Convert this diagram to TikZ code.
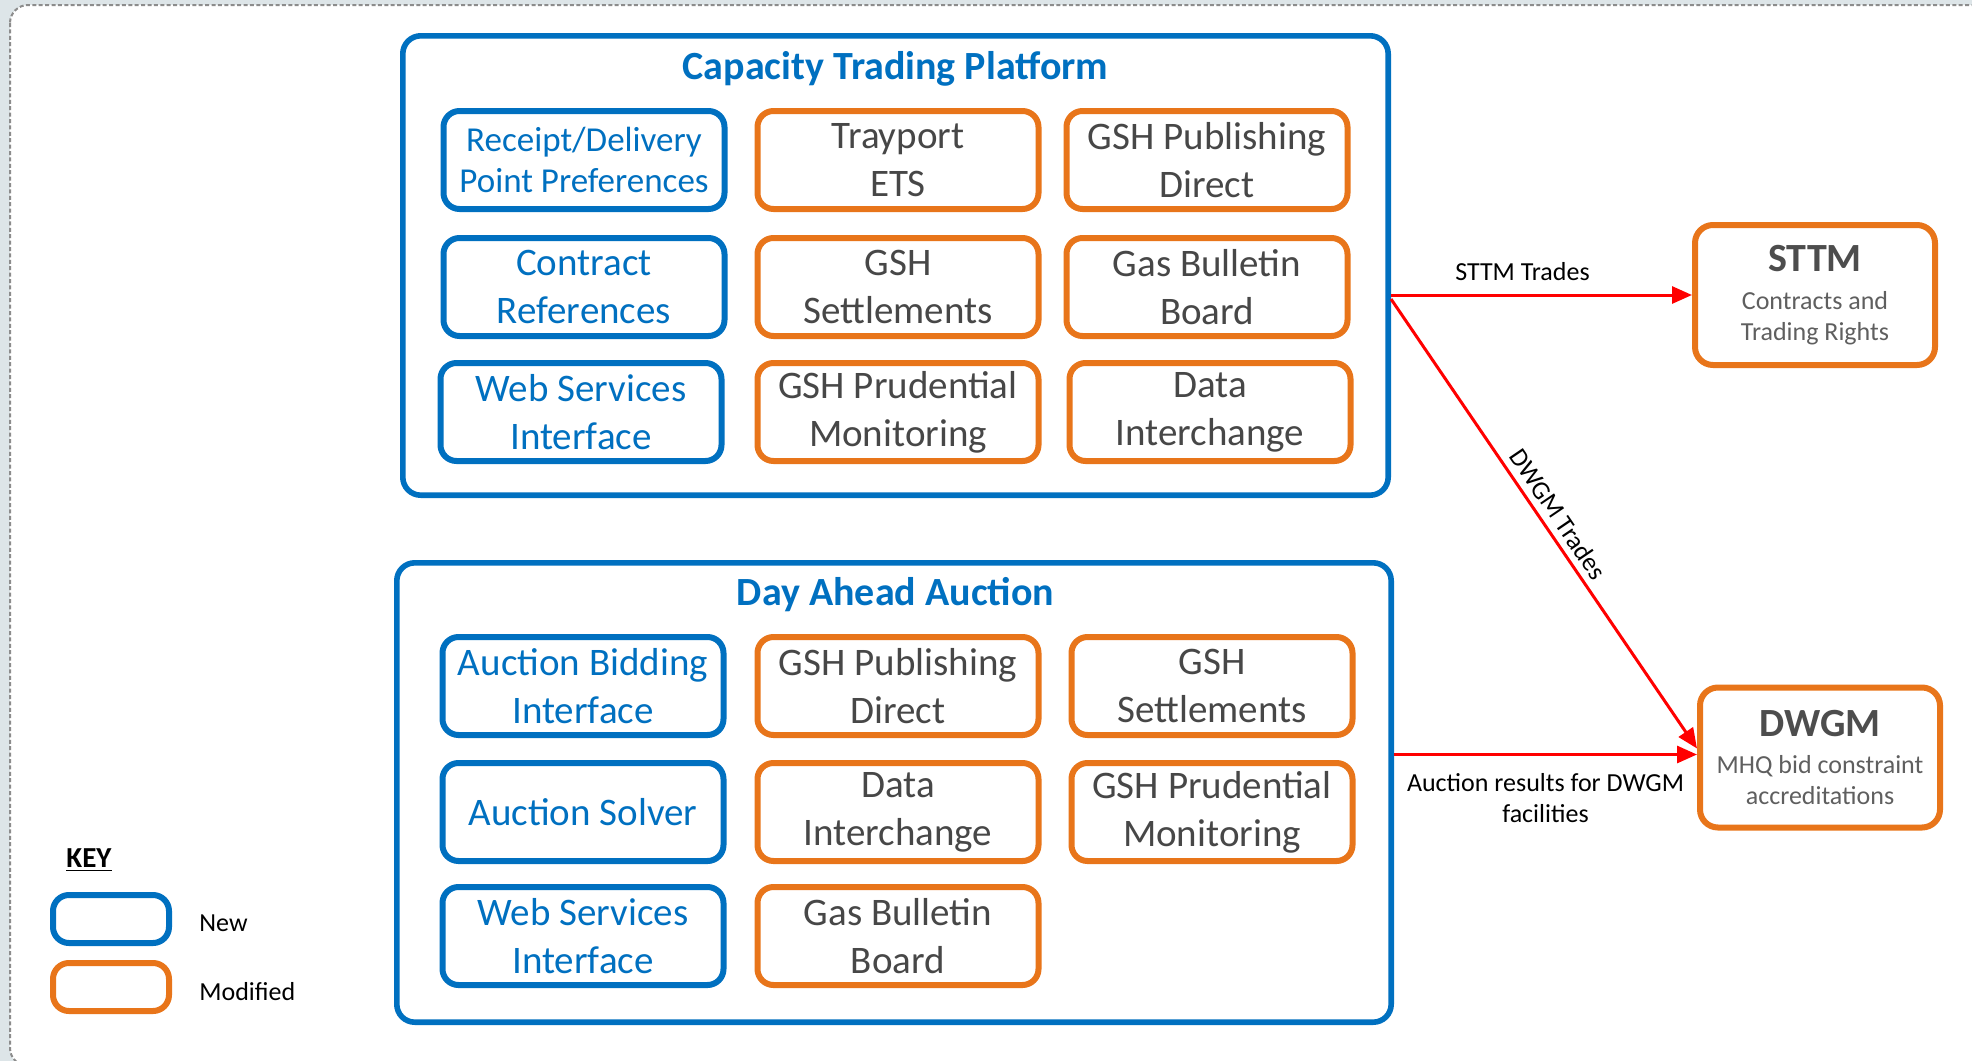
\documentclass[tikz,border=0pt]{standalone}
\usepackage{fontspec}
\setmainfont{Carlito}
\usetikzlibrary{arrows.meta,calc}
\definecolor{newblue}{HTML}{0070C0}
\definecolor{modorange}{HTML}{E8751A}
\definecolor{boxtext}{HTML}{474747}
\definecolor{subgray}{HTML}{5F5F5F}
\definecolor{titgray}{HTML}{4D4D4D}
\definecolor{outbg}{HTML}{DDE5E8}
\definecolor{framegray}{HTML}{8C8C8C}
\definecolor{arrowred}{HTML}{FF0000}
\tikzset{
  newbox/.style={draw=newblue, line width=3pt, rounded corners=8pt, minimum width=140.5pt, minimum height=49pt, align=center, text=newblue, font=\fontsize{19.5}{24}\selectfont, inner sep=0pt},
  modbox/.style={newbox, draw=modorange, text=boxtext},
  groupbox/.style={draw=newblue, line width=2.8pt, rounded corners=9pt, inner sep=0pt},
  grouptitle/.style={text=newblue, font=\fontsize{20}{24}\selectfont\bfseries},
  extbox/.style={draw=modorange, line width=3pt, rounded corners=9pt, minimum width=120pt, minimum height=70pt, align=center, font=\fontsize{13}{15.5}\selectfont, text=subgray, inner sep=0pt},
  flow/.style={draw=arrowred, line width=1.5pt, -{Triangle[length=10pt,width=8.5pt]}},
  flowlabel/.style={font=\fontsize{13}{15.5}\selectfont, text=black, align=center},
  keybox/.style={line width=3pt, rounded corners=8pt, minimum width=58pt, minimum height=24pt, inner sep=0pt},
  keylabel/.style={font=\fontsize{13}{15.5}\selectfont, text=black, anchor=west, inner sep=0pt}
}
\begin{document}
\begin{tikzpicture}[x=0.5pt,y=-0.5pt]
\useasboundingbox (0,0) rectangle (1972,1061);
\clip (0,0) rectangle (1972,1061);
% page background and dotted frame
\fill[outbg] (0,0) rectangle (1972,1061);
\fill[white, rounded corners=9pt] (10,5) rectangle (2010,1066);
\draw[framegray, line width=1pt, dash pattern=on 2pt off 1.2pt, rounded corners=9pt] (10,5) rectangle (2010,1066);

% Capacity Trading Platform
\node[groupbox, minimum width=492.7pt, minimum height=229.7pt] (ctp) at (895.5,265.5) {};
\node[grouptitle] (ctpt) at (895.5,69) {Capacity Trading Platform};
\node[newbox, font=\fontsize{17.5}{20.75}\selectfont] (rdp) at (584,160) {Receipt/Delivery\\Point Preferences};
\node[modbox] (tray) at (898,160) {Trayport\\ETS};
\node[modbox] (gpd1) at (1207,160) {GSH Publishing\\Direct};
\node[newbox] (cref) at (584,287) {Contract\\References};
\node[modbox] (gss1) at (898,287) {GSH\\Settlements};
\node[modbox] (gbb1) at (1207,287) {Gas Bulletin\\Board};
\node[newbox] (wsi1) at (581,412) {Web Services\\Interface};
\node[modbox] (gpm1) at (898,412) {GSH Prudential\\Monitoring};
\node[modbox] (dix1) at (1210,412) {Data\\Interchange};

% Day Ahead Auction
\node[groupbox, minimum width=497.2pt, minimum height=229.7pt] (daa) at (894,792.5) {};
\node[grouptitle] (daat) at (895.5,595) {Day Ahead Auction};
\node[newbox] (abi) at (583,686) {Auction Bidding\\Interface};
\node[modbox] (gpd2) at (898,686) {GSH Publishing\\Direct};
\node[modbox] (gss2) at (1212,686) {GSH\\Settlements};
\node[newbox] (aso) at (583,812) {Auction Solver};
\node[modbox] (dix2) at (898,812) {Data\\Interchange};
\node[modbox] (gpm2) at (1212,812) {GSH Prudential\\Monitoring};
\node[newbox] (wsi2) at (583,936) {Web Services\\Interface};
\node[modbox] (gbb2) at (898,936) {Gas Bulletin\\Board};

% external markets
\node[extbox] (sttm) at (1815,295) {{\fontsize{20}{24}\selectfont\bfseries\color{titgray}STTM}\\[3.5pt]Contracts and\\Trading Rights};
\node[extbox] (dwgm) at (1820,757.5) {{\fontsize{20}{24}\selectfont\bfseries\color{titgray}DWGM}\\[3pt]MHQ bid constraint\\accreditations};

% connectors
\coordinate (dtip) at ($(dwgm.west)+(0,-9)$);
\coordinate (atip) at ($(dwgm.west)+(0,-3)$);
\coordinate (dstart) at ($(ctp.east |- sttm.west)+(0,4)$);
\draw[flow] (ctp.east |- sttm.west) -- (sttm.west)
  node[flowlabel, midway, above, yshift=3pt, xshift=-9.5pt] {STTM Trades};
\draw[flow] (dstart) -- (dtip)
  node[flowlabel, midway, sloped, above] {DWGM Trades};
\draw[flow] (daa.east |- atip) -- (atip)
  node[flowlabel, midway, below, yshift=-5.5pt] {Auction results for DWGM\\facilities};

% key
\node[font=\fontsize{14.5}{17}\selectfont\bfseries, text=black, inner sep=0pt] (keyt) at (89,860) {\underline{KEY}};
\node[keybox, draw=newblue] (keynew) at (111,919) {};
\node[keybox, draw=modorange] (keymod) at (111,987) {};
\node[keylabel] (keynewl) at (199,923) {New};
\node[keylabel] (keymodl) at (199,992) {Modified};
\end{tikzpicture}
\end{document}
